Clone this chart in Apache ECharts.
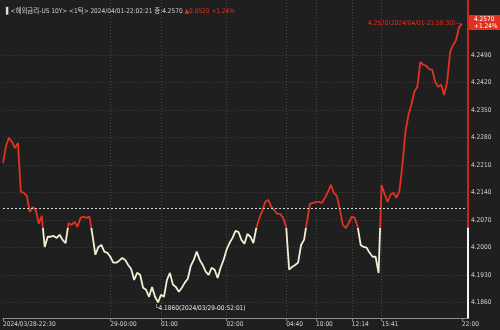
<!DOCTYPE html>
<html>
<head>
<meta charset="utf-8">
<script src="https://cdn.jsdelivr.net/npm/echarts@6/dist/echarts.min.js"></script>
<style>
  html, body { margin: 0; padding: 0; background: #1f1f1f; }
  #chart { width: 500px; height: 330px; }
</style>
</head>
<body>
<div id="chart"></div>
<script>
// US 10Y tick prices (one point per ~3px)
const prices = [
  4.2215, 4.2258, 4.2279, 4.2269, 4.2253, 4.2266, 4.2141, 4.2139, 4.2131, 4.2090,
  4.2103, 4.2095, 4.2060, 4.2080, 4.2001, 4.2027, 4.2027, 4.2029, 4.2024, 4.2032,
  4.2019, 4.2011, 4.2062, 4.2057, 4.2065, 4.2052, 4.2075, 4.2078, 4.2075, 4.2078,
  4.2032, 4.1981, 4.2001, 4.2006, 4.1989, 4.1986, 4.1976, 4.1961, 4.1961, 4.1966,
  4.1973, 4.1968, 4.1955, 4.1945, 4.1917, 4.1935, 4.1930, 4.1897, 4.1892, 4.1874,
  4.1899, 4.1874, 4.1860, 4.1879, 4.1874, 4.1917, 4.1935, 4.1905, 4.1899, 4.1887,
  4.1897, 4.1910, 4.1920, 4.1953, 4.1968, 4.1989, 4.1968, 4.1955, 4.1938, 4.1930,
  4.1948, 4.1943, 4.1922, 4.1948, 4.1968, 4.1994, 4.2011, 4.2024, 4.2042, 4.2039,
  4.2019, 4.2009, 4.2034, 4.2027, 4.2011, 4.2050, 4.2075, 4.2093, 4.2116, 4.2121,
  4.2103, 4.2095, 4.2085, 4.2085, 4.2075, 4.2052, 4.1943, 4.1950, 4.1955, 4.1961,
  4.2006, 4.2019, 4.2067, 4.2111, 4.2113, 4.2116, 4.2116, 4.2113, 4.2126, 4.2141,
  4.2159, 4.2139, 4.2131, 4.2098, 4.2057, 4.2050, 4.2062, 4.2078, 4.2075, 4.2052,
  4.2006, 4.2001, 4.1999, 4.1986, 4.1976, 4.1976, 4.1935, 4.2159, 4.2136, 4.2116,
  4.2134, 4.2139, 4.2126, 4.2144, 4.2210, 4.2294, 4.2337, 4.2363, 4.2396, 4.2409,
  4.2472, 4.2465, 4.2462, 4.2454, 4.2452, 4.2421, 4.2409, 4.2414, 4.2388, 4.2421,
  4.2498, 4.2515, 4.2528, 4.2561, 4.2570
];

const prevClose = 4.2050;
const lastPrice = 4.2570;
const change = '+1.24%';

// x tick labels and the tick index they sit on
const tickLabels = ['2024/03/28-22:30', '29-00:00', '01:00', '02:00', '04:40', '10:00', '12:14', '15:41', '22:00'];
const tickIndex = [0, 36, 53, 75, 95, 105, 117, 127, 154];

// y tick labels
const yTicks = [4.1860, 4.1930, 4.2000, 4.2070, 4.2140, 4.2210, 4.2280, 4.2350, 4.2420, 4.2490];

const yMin = 4.1820;
const yMax = 4.2630;

const RED = '#e2311f';
const CREAM = '#f3efd4';
const FONT = '"Liberation Sans Narrow", "DejaVu Sans Condensed", "Noto Sans CJK KR", sans-serif';
const FS = 6.5;

// two trailing empty slots so the last price sits just left of the axis
const categories = [];
for (let i = 0; i < prices.length + 2; i++) categories.push(String(i));
const isTick = (i) => tickIndex.indexOf(i) >= 0;
const lastSlot = categories.length - 1;
const split = (yMax - prevClose) / (yMax - yMin);

// vertical current-price marker on the right edge, split at the previous close
const markerSeries = (from, to, color) => ({
  type: 'line',
  data: [[lastSlot, from], [lastSlot, to]],
  showSymbol: false,
  clip: false,
  silent: true,
  z: 5,
  lineStyle: { color: color, width: 2 },
  itemStyle: { color: color }
});

const chart = echarts.init(document.getElementById('chart'));
chart.setOption({
  backgroundColor: '#1f1f1f',
  animation: false,
  textStyle: { fontFamily: FONT },
  title: {
    left: 1,
    top: 3,
    text: '{b|▌}{w|<해외금리-US 10Y> <1틱> 2024/04/01-22:02:21 종:4.2570 }{r|▲0.0520 +1.24%}',
    textStyle: {
      rich: {
        b: { color: '#e0e0e0', fontSize: FS, fontFamily: FONT },
        w: { color: '#cfcfcf', fontSize: FS, fontWeight: 'normal', fontFamily: FONT },
        r: { color: RED, fontSize: FS, fontWeight: 'normal', fontFamily: FONT }
      }
    }
  },
  grid: { left: 0, right: 32, top: 0, bottom: 12 },
  visualMap: {
    show: false,
    type: 'piecewise',
    dimension: 1,
    seriesIndex: 0,
    pieces: [
      { gt: prevClose, lte: yMax, color: RED },
      { gte: yMin, lte: prevClose, color: CREAM }
    ],
    outOfRange: { color: CREAM }
  },
  xAxis: {
    type: 'category',
    data: categories,
    boundaryGap: false,
    axisLine: { lineStyle: { color: '#8c8c8c', width: 1 } },
    axisTick: {
      interval: (i) => isTick(i),
      length: 3,
      inside: false,
      lineStyle: { color: '#8c8c8c' }
    },
    axisLabel: {
      interval: (i) => isTick(i),
      formatter: (v, i) => tickLabels[tickIndex.indexOf(i)] || '',
      align: 'left',
      margin: 3,
      color: '#d0d0d0',
      fontSize: FS,
      fontFamily: FONT
    },
    splitLine: {
      show: true,
      interval: (i) => isTick(i) && i > 0 && i < 154,
      lineStyle: { color: '#474747', type: [1, 2] }
    }
  },
  yAxis: {
    type: 'value',
    position: 'right',
    min: yMin,
    max: yMax,
    axisLine: {
      show: true,
      lineStyle: {
        width: 2,
        color: new echarts.graphic.LinearGradient(0, 0, 0, 1, [
          { offset: 0, color: '#c8261a' },
          { offset: split, color: '#c8261a' },
          { offset: split, color: '#f4f4f4' },
          { offset: 1, color: '#f4f4f4' }
        ])
      }
    },
    axisTick: { show: false, customValues: yTicks },
    axisLabel: {
      customValues: yTicks,
      formatter: (v) => v.toFixed(4),
      color: '#d0d0d0',
      fontSize: FS,
      fontFamily: FONT,
      margin: 3
    },
    splitLine: { show: true, lineStyle: { color: '#3d3d3d', type: [1, 2] } }
  },
  series: [
    {
      type: 'line',
      data: prices,
      showSymbol: false,
      lineStyle: { width: 1.8 },
      markLine: {
        silent: true,
        symbol: 'none',
        data: [
          {
            yAxis: prevClose,
            lineStyle: { color: '#d8d8d8', type: [2, 2], width: 1 },
            label: { show: false }
          }
        ]
      },
      markPoint: {
        symbolSize: 0,
        data: [
          {
            type: 'max',
            label: {
              show: true,
              position: 'left',
              distance: 1,
              formatter: (p) => p.value.toFixed(4) + '(2024/04/01-21:58:30)—',
              color: RED,
              fontSize: FS,
              fontFamily: FONT
            }
          },
          {
            type: 'min',
            label: {
              show: true,
              position: 'bottom',
              align: 'left',
              offset: [-3, 0],
              distance: 3,
              formatter: (p) => '└' + p.value.toFixed(4) + '(2024/03/29-00:52:01)',
              color: '#e6e6e6',
              fontSize: FS,
              fontFamily: FONT
            }
          },
          {
            coord: [lastSlot, lastPrice],
            value: lastPrice,
            label: {
              show: true,
              position: 'right',
              distance: 0,
              offset: [0, -1],
              formatter: lastPrice.toFixed(4) + '\n' + change,
              backgroundColor: RED,
              color: '#ffffff',
              fontSize: FS,
              lineHeight: 7,
              padding: [1, 6, 0, 6],
              fontFamily: FONT
            }
          }
        ]
      }
    },
    markerSeries(yMax, prevClose, '#c8261a'),
    markerSeries(prevClose, yMin, '#f4f4f4')
  ]
});
</script>
</body>
</html>
